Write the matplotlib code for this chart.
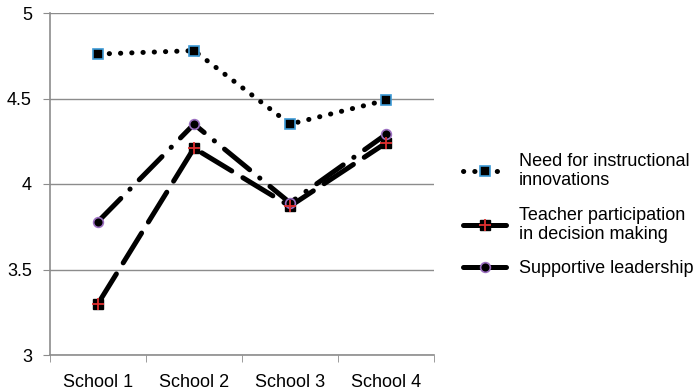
import matplotlib.pyplot as plt
from matplotlib.lines import Line2D

schools = ['School 1', 'School 2', 'School 3', 'School 4']
need_innov = [4.76, 4.78, 4.35, 4.49]
teacher_part = [3.30, 4.21, 3.87, 4.24]
supportive = [3.78, 4.35, 3.89, 4.29]

labels = ['Need for instructional\ninnovations',
          'Teacher participation\nin decision making',
          'Supportive leadership']

grid_col = '#8c8c8c'


def main():
    plt.rcParams['font.family'] = ['Liberation Sans', 'DejaVu Sans']
    fig = plt.figure(figsize=(6.99, 3.91), dpi=100)
    ax = fig.add_axes([50 / 699, 36 / 391, 384 / 699, 342 / 391])

    x = list(range(1, len(schools) + 1))
    lw = 3.6
    fs = 13

    ax.plot(x, need_innov, color='black', lw=lw, linestyle=(0, (0.05, 2.2)),
            dash_capstyle='round', zorder=3)
    ax.plot(x, need_innov, linestyle='none', marker='s', ms=7,
            mfc='black', mec='#3d9ad6', mew=1.2, zorder=4)

    ax.plot(x, teacher_part, color='black', lw=lw, linestyle=(0, (7, 2.6)),
            dash_capstyle='round', zorder=3)
    ax.plot(x, teacher_part, linestyle='none', marker='s', ms=7,
            mfc='black', mec='black', zorder=4)
    ax.plot(x, teacher_part, linestyle='none', marker='+', ms=8,
            mec='#e03030', mew=1.3, zorder=5)

    ax.plot(x, supportive, color='black', lw=lw,
            linestyle=(0, (6.5, 2.6, 0.05, 2.6)),
            dash_capstyle='round', zorder=3)
    ax.plot(x, supportive, linestyle='none', marker='o', ms=7,
            mfc='black', mec='#9b6fc0', mew=1.2, zorder=4)

    ax.set_xlim(0.5, 4.5)
    ax.set_ylim(3, 5)
    ax.set_yticks([3, 3.5, 4, 4.5, 5])
    ax.set_yticklabels(['3', '3.5', '4', '4.5', '5'])
    ax.set_xticks(x)
    ax.set_xticklabels(schools)
    ax.set_xticks([0.5, 1.5, 2.5, 3.5, 4.5], minor=True)
    ax.tick_params(axis='x', which='major', length=0, labelsize=fs, pad=14)
    ax.tick_params(axis='x', which='minor', length=5, color=grid_col)
    ax.tick_params(axis='y', length=5, color=grid_col, labelsize=fs, pad=8)
    ax.grid(axis='y', color=grid_col, lw=1)
    ax.set_axisbelow(True)
    for side in ['top', 'right']:
        ax.spines[side].set_visible(False)
    for side in ['left', 'bottom']:
        ax.spines[side].set_color(grid_col)
        ax.spines[side].set_linewidth(1.2)

    h1 = (Line2D([], [], color='black', lw=lw, linestyle=(0, (0.05, 2.2)),
                 dash_capstyle='round'),
          Line2D([], [], linestyle='none', marker='s', ms=7,
                 mfc='black', mec='#3d9ad6', mew=1.2))
    h2 = (Line2D([], [], color='black', lw=lw, solid_capstyle='round'),
          Line2D([], [], linestyle='none', marker='s', ms=7,
                 mfc='black', mec='black'),
          Line2D([], [], linestyle='none', marker='+', ms=8,
                 mec='#e03030', mew=1.3))
    h3 = (Line2D([], [], color='black', lw=lw, solid_capstyle='round'),
          Line2D([], [], linestyle='none', marker='o', ms=7,
                 mfc='black', mec='#9b6fc0', mew=1.2))
    fig.legend([h1, h2, h3], labels, loc='center left',
               bbox_to_anchor=(463 / 699, 1 - 215 / 391), frameon=False,
               fontsize=fs, handlelength=2.4, handletextpad=0.7,
               labelspacing=0.95, borderaxespad=0, borderpad=0)

    fig.savefig('out.png', dpi=100)


if __name__ == '__main__':
    main()
